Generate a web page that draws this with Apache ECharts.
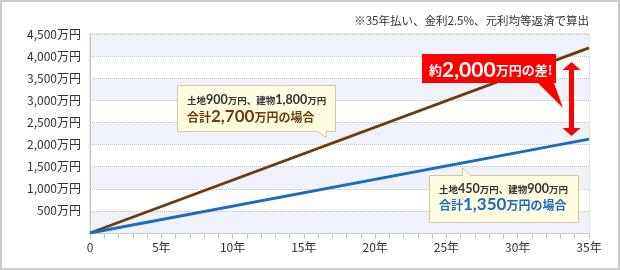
<!DOCTYPE html>
<html><head><meta charset="utf-8">
<script src="https://cdn.jsdelivr.net/npm/echarts@6/dist/echarts.min.js"></script>
<style>html,body{margin:0;padding:0;background:#fff}#c{width:620px;height:270px}</style>
</head><body><div id="c"></div>
<script>
// ---- data ----
const years = [0, 35];
const totalLarge = [0, 4185];   // 土地900万円、建物1,800万円（合計2,700万円）
const totalSmall = [0, 2120];   // 土地450万円、建物900万円（合計1,350万円）
const yMin = 0, yMax = 4500, yStep = 500;
const xMin = 0, xMax = 35, xStep = 5;
const noteText = '※35年払い、金利2.5%、元利均等返済で算出';
const box1Line1 = ['土地', '900', '万円、建物', '1,800', '万円'];
const box1Line2 = ['合計', '2,700', '万円の場合'];
const box2Line1 = ['土地', '450', '万円、建物', '900', '万円'];
const box2Line2 = ['合計', '1,350', '万円の場合'];
const diffText = ['約', '2,000', '万円の差', '!'];

const JP = '"Noto Sans CJK JP", sans-serif';
const NUM = 'Lato, "Noto Sans", sans-serif';
const brown = '#6b3c12', blue = '#1a6cc0', red = '#ff0000';

const chart = echarts.init(document.getElementById('c'), null, {renderer: 'canvas'});

function rich(parts, styles) {
  return parts.map((p, i) => '{' + styles[i] + '|' + p + '}').join('');
}

const option = {
  animation: false,
  backgroundColor: '#fff',
  grid: {left: 90, right: 31, top: 34, bottom: 37, show: true, borderColor: '#ccc', borderWidth: 1, backgroundColor: 'transparent'},
  xAxis: {
    type: 'value', min: xMin, max: xMax, interval: xStep,
    axisLine: {show: true, lineStyle: {color: '#c8c8c8', width: 1}},
    axisTick: {show: true, length: 6, lineStyle: {color: '#c8c8c8'}},
    minorTick: {show: true, splitNumber: 5, length: 6, lineStyle: {color: '#c8c8c8'}},
    splitLine: {show: false},
    axisLabel: {margin: 8, color: '#333', fontSize: 12, fontFamily: JP,
      formatter: v => v === 0 ? '0' : v + '年'}
  },
  yAxis: {
    type: 'value', min: yMin, max: yMax, interval: yStep,
    axisLine: {show: true, lineStyle: {color: '#c8c8c8', width: 1}},
    axisTick: {show: false},
    splitLine: {show: true, lineStyle: {color: '#c4c4c4', type: 'dotted', width: 1}},
    splitArea: {show: true, areaStyle: {color: ['#eff3f9', '#ffffff']}},
    axisLabel: {margin: 9, color: '#333', fontSize: 12, fontFamily: JP,
      formatter: v => v === 0 ? '' : v.toLocaleString('en-US') + '万円'}
  },
  series: [
    {type: 'line', data: years.map((y, i) => [y, totalLarge[i]]), showSymbol: false, symbol: 'none',
      lineStyle: {color: brown, width: 2.8}, z: 3},
    {type: 'line', data: years.map((y, i) => [y, totalSmall[i]]), showSymbol: false, symbol: 'none',
      lineStyle: {color: blue, width: 2.8}, z: 3}
  ],
  graphic: [
    {type: 'rect', shape: {x: 1, y: 1, width: 618, height: 268}, style: {fill: 'none', stroke: '#cccccc', lineWidth: 2}, z: 100, silent: true},
    {type: 'text', x: 589, y: 21, z: 100, style: {text: noteText, align: 'right', verticalAlign: 'middle', font: '11.5px ' + JP, fill: '#333'}},
    // box 1
    {type: 'polygon', z: 50, shape: {points: [[177.5,85.5],[335.5,85.5],[335.5,131.5],[326,131.5],[326,137.5],[318,131.5],[177.5,131.5]]},
      style: {fill: '#fffde0', stroke: '#d3c9a8', lineWidth: 1}},
    {type: 'text', z: 51, x: 187, y: 100, style: {
      text: rich(box1Line1, ['s','n','s','n','s']), verticalAlign: 'middle', align: 'left',
      rich: {s: {fontSize: 9.5, fontFamily: JP, fill: '#333', fontWeight: 'bold'}, n: {fontSize: 12.5, fontFamily: NUM, fill: '#333', fontWeight: 'bold'}}}},
    {type: 'text', z: 51, x: 187, y: 117, style: {
      text: rich(box1Line2, ['s','n','s']), verticalAlign: 'middle', align: 'left',
      rich: {s: {fontSize: 12, fontFamily: JP, fill: brown, fontWeight: 'bold'}, n: {fontSize: 17, fontFamily: NUM, fill: brown, fontWeight: 'bold'}}}},
    // box 2
    {type: 'polygon', z: 50, shape: {points: [[429.5,175.5],[462.5,175.5],[462.5,167.5],[470.5,175.5],[578.5,175.5],[578.5,222.5],[429.5,222.5]]},
      style: {fill: '#fffde0', stroke: '#d3c9a8', lineWidth: 1}},
    {type: 'text', z: 51, x: 439, y: 189, style: {
      text: rich(box2Line1, ['s','n','s','n','s']), verticalAlign: 'middle', align: 'left',
      rich: {s: {fontSize: 9.5, fontFamily: JP, fill: '#333', fontWeight: 'bold'}, n: {fontSize: 12.5, fontFamily: NUM, fill: '#333', fontWeight: 'bold'}}}},
    {type: 'text', z: 51, x: 439, y: 205, style: {
      text: rich(box2Line2, ['s','n','s']), verticalAlign: 'middle', align: 'left',
      rich: {s: {fontSize: 12, fontFamily: JP, fill: blue, fontWeight: 'bold'}, n: {fontSize: 17, fontFamily: NUM, fill: blue, fontWeight: 'bold'}}}},
    // red callout
    {type: 'polygon', z: 50, shape: {points: [[422,54],[556,54],[556,83],[554,83],[563,108],[538,83],[422,83]]},
      style: {fill: red}},
    {type: 'text', z: 51, x: 429, y: 70, style: {
      text: rich(diffText, ['s','n','s','s']), verticalAlign: 'middle', align: 'left',
      rich: {s: {fontSize: 13, fontFamily: JP, fill: '#fff', fontWeight: 'bold'}, n: {fontSize: 21, fontFamily: NUM, fill: '#fff', fontWeight: 'bold'}}}},
    // double arrow
    {type: 'polygon', z: 50, shape: {points: [[571.5,62],[580.5,70],[574,70],[574,128],[580.5,128],[571.5,136],[562.5,128],[569,128],[569,70],[562.5,70]]},
      style: {fill: red}}
  ]
};
chart.setOption(option);
</script></body></html>
